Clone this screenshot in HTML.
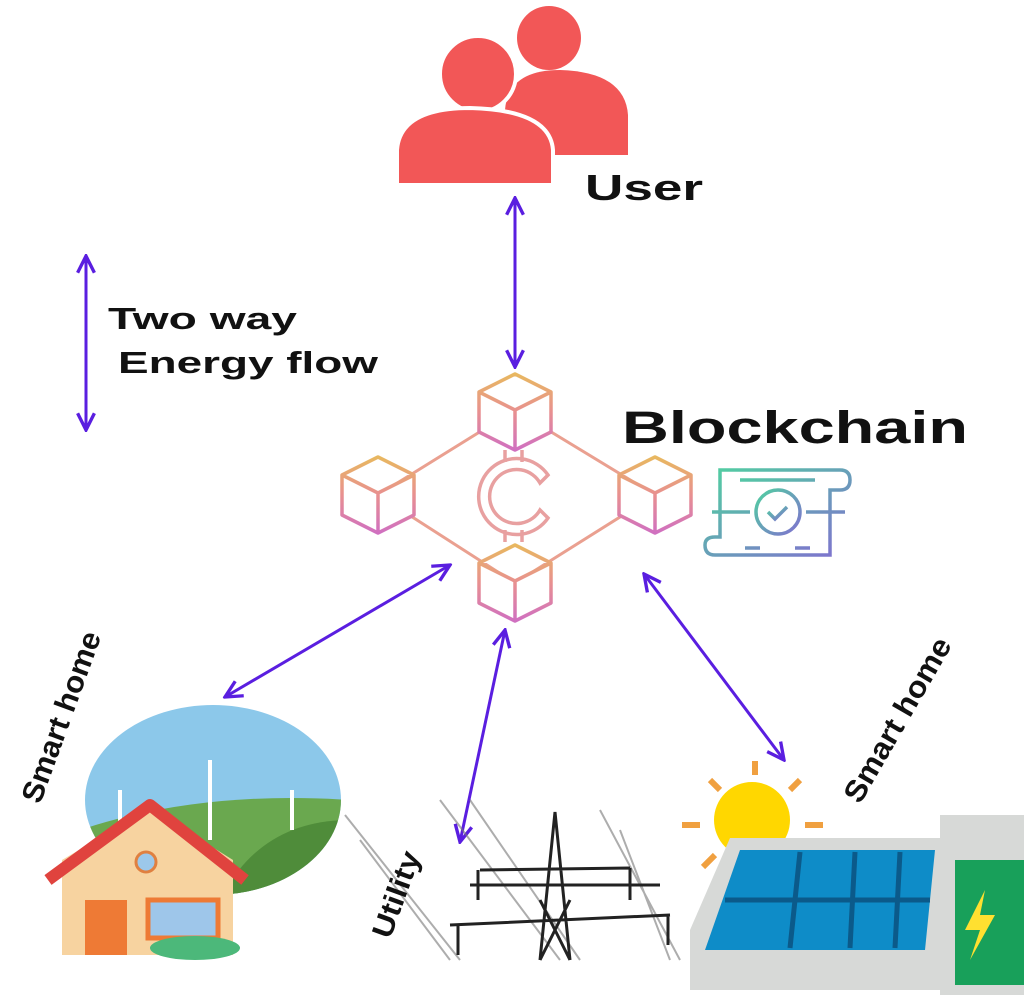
<!DOCTYPE html>
<html><head><style>body{margin:0;background:#fff}svg{display:block}text{font-family:"Liberation Sans",sans-serif;font-weight:bold;fill:#111}</style></head><body>
<svg width="1024" height="996" viewBox="0 0 1024 996" xmlns="http://www.w3.org/2000/svg">
<defs>
<marker id="a" viewBox="0 0 10 10" refX="9" refY="5" markerWidth="7" markerHeight="7" orient="auto-start-reverse"><path d="M1,1 L9,5 L1,9" fill="none" stroke="#5a1ee0" stroke-width="1.6"/></marker>
<linearGradient id="g" x1="0" y1="0" x2="0" y2="1"><stop offset="0" stop-color="#e8b860"/><stop offset="0.5" stop-color="#e89090"/><stop offset="1" stop-color="#d070c0"/></linearGradient>
<linearGradient id="d" x1="0" y1="0" x2="1" y2="1"><stop offset="0" stop-color="#50d0a0"/><stop offset="1" stop-color="#8070d0"/></linearGradient>
<clipPath id="c"><ellipse cx="213" cy="800" rx="128" ry="95"/></clipPath>
<g id="cube" fill="#fff" stroke="url(#g)" stroke-width="3.5" stroke-linejoin="round"><path d="M0,-38 L36,-20 L36,20 L0,38 L-36,20 L-36,-20 Z M-36,-20 L0,-2 L36,-20 M0,-2 L0,38"/></g>
</defs>
<!-- user -->
<g fill="#f25757">
<circle cx="549" cy="38" r="32"/><path d="M505,155 L505,110 Q508,70 560,70 Q625,72 628,115 L628,155 Z"/>
<circle cx="478" cy="74" r="38" stroke="#fff" stroke-width="4"/><path d="M397,185 L397,150 Q400,108 470,108 Q550,110 553,150 L553,185 Z" stroke="#fff" stroke-width="4"/>
</g>
<text x="585" y="200" font-size="36" textLength="118" lengthAdjust="spacingAndGlyphs">User</text>
<g stroke="#5a1ee0" stroke-width="3" fill="none" marker-start="url(#a)" marker-end="url(#a)">
<line x1="515" y1="198" x2="515" y2="367"/>
<line x1="86" y1="256" x2="86" y2="430"/>
<line x1="450" y1="565" x2="225" y2="697"/>
<line x1="505" y1="630" x2="460" y2="842"/>
<line x1="644" y1="574" x2="784" y2="760"/>
</g>
<text x="108" y="329" font-size="31" textLength="189" lengthAdjust="spacingAndGlyphs">Two way</text>
<text x="118" y="373" font-size="31" textLength="260" lengthAdjust="spacingAndGlyphs">Energy flow</text>
<text x="622" y="443" font-size="45" textLength="346" lengthAdjust="spacingAndGlyphs">Blockchain</text>
<!-- blockchain -->
<path d="M515,410 L655,495 L515,583 L378,495 Z" fill="none" stroke="#eaa090" stroke-width="3"/>
<use href="#cube" x="515" y="412"/><use href="#cube" x="378" y="495"/><use href="#cube" x="655" y="495"/><use href="#cube" x="515" y="583"/>
<g fill="none" stroke="#e8a0a0" stroke-width="3.5">
<path d="M548,475 A38,38 0 1 0 548,518 L540,510 A27,27 0 1 1 540,483 Z"/>
<path d="M505,462 v-12 M522,462 v-12 M505,530 v12 M522,530 v12"/>
</g>
<g fill="none" stroke="url(#d)" stroke-width="3.5">
<path d="M720,470 H840 Q850,470 850,480 Q850,490 840,490 H830 V555 H715 Q705,555 705,545 Q705,537 715,537 H720 Z"/>
<circle cx="778" cy="512" r="22"/><path d="M768,512 l7,7 l12,-12"/>
<path d="M740,480 H815 M712,512 H750 M806,512 H845 M745,548 H760 M795,548 H810"/>
</g>
<!-- house -->
<g clip-path="url(#c)"><rect x="80" y="700" width="270" height="200" fill="#8cc8ea"/><path d="M80,830 Q200,790 350,800 L350,900 L80,900 Z" fill="#6aa84f"/><path d="M220,900 Q260,820 350,820 L350,900Z" fill="#4f8c3a"/>
<g stroke="#fff" stroke-width="4"><line x1="120" y1="790" x2="120" y2="840"/><line x1="210" y1="760" x2="210" y2="840"/><line x1="292" y1="790" x2="292" y2="830"/></g></g>
<path d="M62,860 L150,808 L233,860 L233,955 L62,955 Z" fill="#f7d3a0"/>
<path d="M48,880 L150,805 L245,880" fill="none" stroke="#e0433e" stroke-width="12" stroke-linejoin="round"/>
<circle cx="146" cy="862" r="10" fill="#9cc8ea" stroke="#e08040" stroke-width="3"/>
<rect x="85" y="900" width="42" height="55" fill="#ee7a35"/>
<rect x="148" y="900" width="70" height="38" fill="#9ec6ea" stroke="#ee7a35" stroke-width="5"/>
<ellipse cx="195" cy="948" rx="45" ry="12" fill="#4cb87a"/>
<!-- tower -->
<g stroke="#777" stroke-width="2" fill="none" opacity="0.6"><path d="M345,815 L460,960 M360,840 L450,960 M440,800 L560,960 M470,800 L580,960 M600,810 L680,960 M620,830 L670,960"/></g>
<g stroke="#222" stroke-width="3" fill="none"><path d="M540,960 L555,812 L570,960 M540,960 L570,900 M570,960 L540,900 M470,885 L660,885 M450,925 L670,915 M480,870 L630,868 M478,870 V900 M630,868 V900 M458,925 V955 M668,915 V945"/></g>
<!-- solar -->
<g stroke="#f0a040" stroke-width="6"><path d="M755,775 v-14 M720,790 l-10,-10 M790,790 l10,-10 M700,825 h-18 M805,825 h18 M715,855 l-12,12"/></g>
<circle cx="752" cy="820" r="38" fill="#ffd700"/>
<path d="M730,838 L950,838 L940,990 L690,990 L690,930 Z" fill="#d7d9d7"/>
<path d="M740,850 L935,850 L925,950 L705,950 Z" fill="#0e8cc8"/>
<g stroke="#0b5a8a" stroke-width="5"><path d="M800,852 L790,948 M855,852 L850,948 M900,852 L895,948 M725,900 L930,900"/></g>
<rect x="940" y="815" width="84" height="180" fill="#d7d9d7"/><rect x="955" y="860" width="69" height="125" fill="#18a05a"/>
<path d="M985,890 L965,930 L980,930 L970,960 L995,915 L980,915 Z" fill="#ffe030"/>
<text transform="translate(40,805) rotate(-70)" font-size="30" textLength="180" lengthAdjust="spacingAndGlyphs">Smart home</text>
<text transform="translate(860,805) rotate(-60)" font-size="30" textLength="185" lengthAdjust="spacingAndGlyphs">Smart home</text>
<text transform="translate(390,940) rotate(-70)" font-size="29" textLength="90" lengthAdjust="spacingAndGlyphs">Utility</text>
</svg>
</body></html>
